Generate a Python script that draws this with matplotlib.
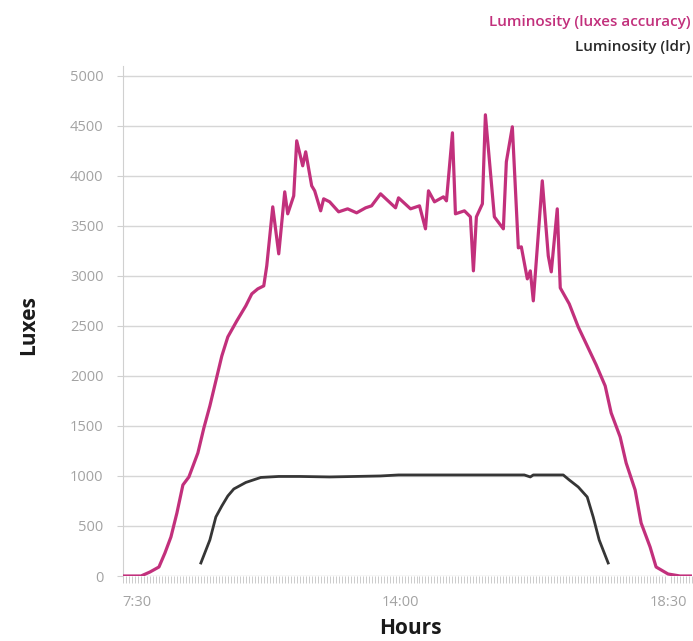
import numpy as np
import matplotlib
matplotlib.use('Agg')
import matplotlib.pyplot as plt

plt.rcParams['font.family'] = ['Open Sans', 'DejaVu Sans']

# 采样序号 (横轴为等间隔采样点, 共 190 个)
n_samples = 190
time_labels = ['7:30', '14:00', '18:30']
label_pos = [4.7, 92.7, 182]

# Luminosity (luxes accuracy) —— 折线顶点 (采样序号, 勒克斯)
lux_idx = [0, 6, 9, 12, 14, 16, 18, 20, 22, 25, 27, 29, 31, 33, 35, 38, 40, 41, 43, 45,
           47, 48, 50, 52, 54, 55, 57, 58, 60, 61, 63, 64, 66, 67, 69, 72, 75, 78, 81, 83,
           86, 91, 92, 96, 99, 101, 102, 104, 107, 108, 110, 111, 114, 116, 117, 118, 120, 121,
           124, 127, 128, 130, 132, 133, 135, 136, 137, 140, 142, 143, 145, 146, 149, 152,
           155, 158, 161, 163, 166, 168, 171, 173, 176, 178, 182, 186, 190]
lux_val = [0, 0, 40, 90, 230, 390, 630, 910, 990, 1230, 1480, 1700, 1950, 2200, 2390, 2550,
           2650, 2700, 2820, 2870, 2900, 3100, 3690, 3220, 3840, 3620, 3800, 4350, 4100, 4240,
           3900, 3850, 3650, 3770, 3740, 3640, 3670, 3630, 3680, 3700, 3820, 3680, 3780, 3670,
           3700, 3470, 3850, 3740, 3790, 3750, 4430, 3620, 3650, 3590, 3050, 3590, 3720, 4610,
           3590, 3470, 4140, 4490, 3280, 3290, 2970, 3050, 2750, 3950, 3200, 3040, 3670, 2880,
           2720, 2490, 2300, 2110, 1900, 1630, 1390, 1130, 860, 530, 290, 90, 20, 0, 0]

# Luminosity (ldr)
ldr_idx = [26, 29, 31, 33, 35, 37, 41, 46, 52, 59, 69, 86, 92, 109, 126, 134, 136, 137, 147,
           149, 152, 155, 157, 159, 162]
ldr_val = [130, 360, 590, 700, 800, 870, 935, 985, 995, 995, 990, 1000, 1010, 1010, 1010, 1010,
           990, 1010, 1010, 960, 890, 790, 590, 360, 130]

pink = '#c2307c'
dark = '#363636'
grey_txt = '#a3a3a3'

fig = plt.figure(figsize=(6.93, 6.41), dpi=100)
ax = fig.add_axes([0.1775, 0.1014, 0.8211, 0.796])

ax.plot(lux_idx, lux_val, color=pink, lw=2.3, solid_joinstyle='round', zorder=3)
ax.plot(ldr_idx, ldr_val, color=dark, lw=2.0, solid_joinstyle='round', zorder=3)

ax.set_xlim(0, n_samples)
ax.set_ylim(0, 5100)
ax.set_yticks(range(0, 5001, 500))
ax.yaxis.grid(True, color='#d6d6d6', lw=1.0)
ax.set_axisbelow(True)

ax.set_xticks(label_pos)
ax.set_xticklabels(time_labels)
ax.set_xticks(np.arange(0, n_samples + 1), minor=True)
ax.tick_params(axis='x', which='major', length=0, pad=14, labelsize=10.5, labelcolor=grey_txt)
ax.tick_params(axis='x', which='minor', length=5, width=0.6, color='#c4c4c4', direction='out')
ax.tick_params(axis='y', length=4, width=0.8, color='#d0d0d0', labelsize=10.5,
               labelcolor=grey_txt, pad=10)

for s in ['top', 'right', 'bottom']:
    ax.spines[s].set_visible(False)
ax.spines['left'].set_color('#d0d0d0')

fig.text(0.042, 0.493, 'Luxes', rotation=90, ha='center', va='center',
         fontsize=15, fontweight='bold', color='#1a1a1a')
fig.text(0.592, 0.020, 'Hours', ha='center', va='center',
         fontsize=15, fontweight='bold', color='#1a1a1a')

fig.text(0.996, 0.966, 'Luminosity (luxes accuracy)', ha='right', va='center',
         fontsize=11, color=pink, fontweight='semibold')
fig.text(0.996, 0.927, 'Luminosity (ldr)', ha='right', va='center',
         fontsize=11, color='#2a2a2a', fontweight='semibold')

fig.savefig('out.png', dpi=100)
